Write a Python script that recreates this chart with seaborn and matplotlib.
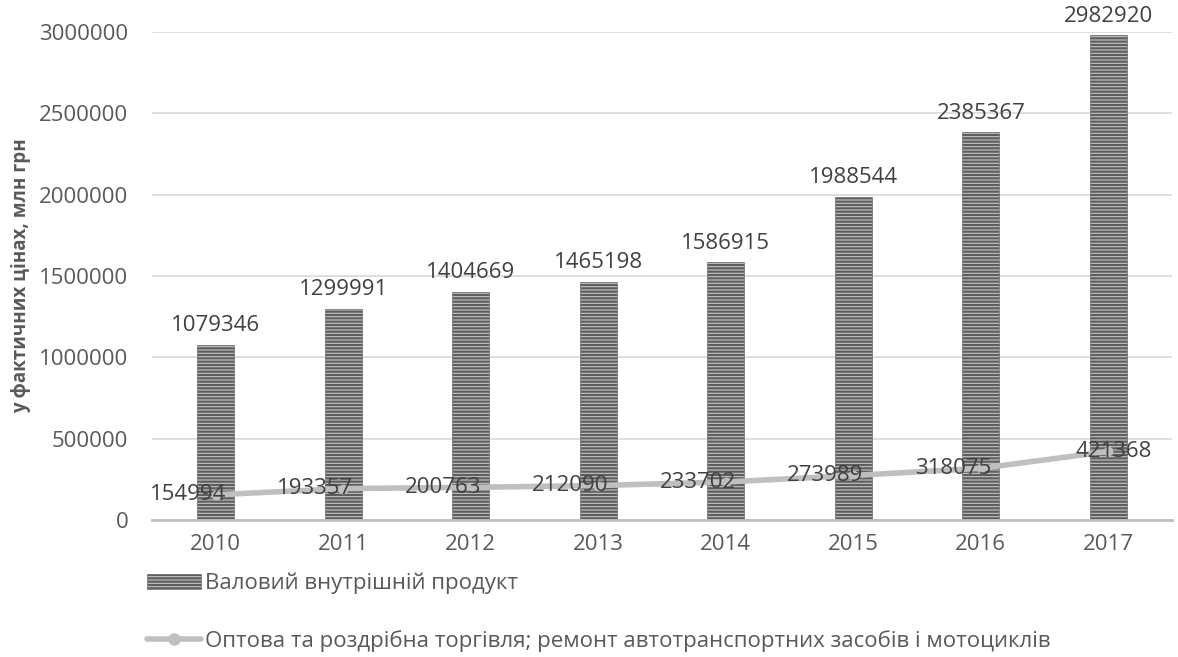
import numpy as np
import pandas as pd
import seaborn as sns
import matplotlib.pyplot as plt
from matplotlib.patches import Patch
from matplotlib.lines import Line2D
from matplotlib.ticker import StrMethodFormatter

# Data
years = ['2010', '2011', '2012', '2013', '2014', '2015', '2016', '2017']
gdp = [1079346, 1299991, 1404669, 1465198, 1586915, 1988544, 2385367, 2982920]
trade = [154994, 193357, 200763, 212090, 233702, 273989, 318075, 421368]
gdp_label = 'Валовий внутрішній продукт'
trade_label = 'Оптова та роздрібна торгівля; ремонт автотранспортних засобів і мотоциклів'
y_title = 'у фактичних цінах, млн грн'

sns.set_style('white')
plt.rcParams['font.family'] = ['Open Sans', 'DejaVu Sans']
plt.rcParams['hatch.linewidth'] = 1.6

text_col = '#595959'
bar_face = '#c4c4c4'
bar_hatch = '#5e5e5e'
fs = 16

df = pd.DataFrame({'year': years, 'gdp': gdp, 'trade': trade, 'pos': np.arange(len(years))})

fig = plt.figure(figsize=(11.78, 6.57), dpi=100)
ax = fig.add_axes([0.129, 0.2085, 0.866, 0.7425])

sns.barplot(data=df, x='year', y='gdp', ax=ax, color=bar_face, width=0.29,
            hatch='-----', edgecolor=bar_hatch, linewidth=0.4, saturation=1, zorder=2)
sns.lineplot(data=df, x='pos', y='trade', ax=ax, color='#bfbfbf', linewidth=4,
             marker='o', markersize=7, markeredgewidth=0, zorder=3)

ax.set_xlim(-0.5, len(years) - 0.5)
ax.set_ylim(0, 3000000)
ax.set_yticks(np.arange(0, 3000001, 500000))
ax.yaxis.set_major_formatter(StrMethodFormatter('{x:.0f}'))
ax.yaxis.grid(True, color='#d9d9d9', linewidth=1.2, zorder=0)
ax.set_axisbelow(True)
for s in ['top', 'right', 'left']:
    ax.spines[s].set_visible(False)
ax.spines['bottom'].set_color('#bfbfbf')
ax.spines['bottom'].set_linewidth(2)
ax.tick_params(axis='y', length=0, labelsize=fs, colors=text_col, pad=17)
ax.tick_params(axis='x', length=0, labelsize=fs, colors=text_col, pad=10)
ax.set_xlabel('')
ax.set_ylabel(y_title, fontsize=13.5, fontweight='bold', color=text_col, labelpad=6)

# bar value labels
for i, v in enumerate(gdp):
    ax.annotate(str(v), (i, v), xytext=(0, 6), textcoords='offset points',
                ha='center', va='bottom', fontsize=fs, color='#404040')

# line value labels (placed left of the point, last one to the right)
for i, v in enumerate(trade):
    dx = -20 if i < len(trade) - 1 else 4
    ax.annotate(str(v), (i, v), xytext=(dx, 0), textcoords='offset points',
                ha='center', va='center', fontsize=fs, color='#404040', zorder=4)

handles = [
    Patch(facecolor=bar_face, edgecolor=bar_hatch, hatch='-----', linewidth=0.4),
    Line2D([0], [0], color='#bfbfbf', linewidth=4, marker='o', markersize=9, markeredgewidth=0),
]
leg = fig.legend(handles, [gdp_label, trade_label], loc='upper left',
                 bbox_to_anchor=(0.125, 0.128), frameon=False, fontsize=fs,
                 labelcolor=text_col, handlelength=2.4, handletextpad=0.2,
                 labelspacing=1.6, borderaxespad=0, borderpad=0)

plt.savefig('out.png', dpi=100)
